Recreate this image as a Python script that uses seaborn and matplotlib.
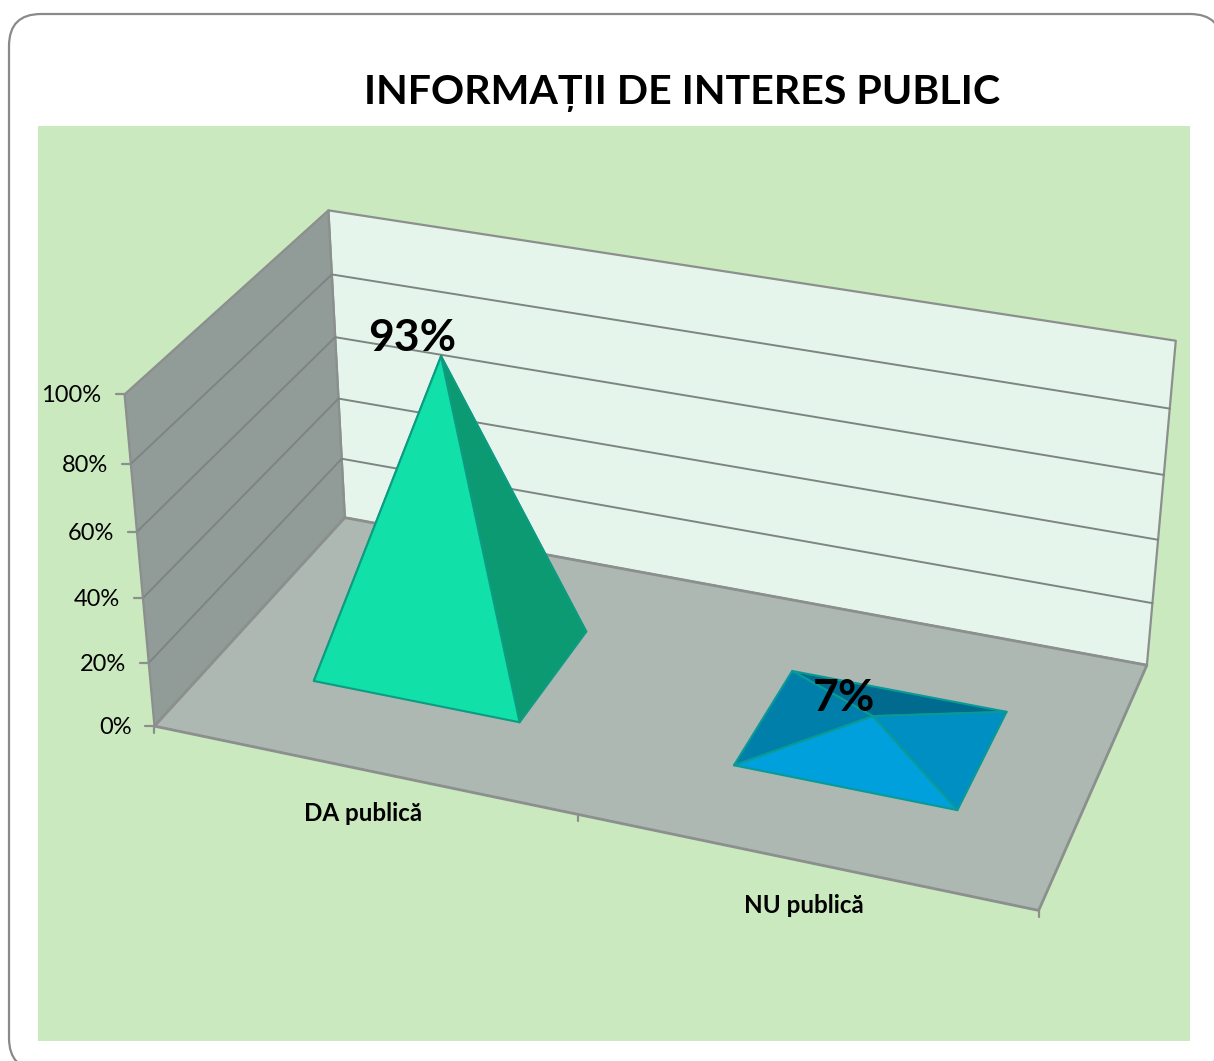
import numpy as np
import matplotlib
matplotlib.use("Agg")
import matplotlib.pyplot as plt
from matplotlib.patches import FancyBboxPatch, Polygon, Rectangle
import seaborn as sns

# ---- chart data ----
title = "INFORMAȚII DE INTERES PUBLIC"
categories = ["DA publică", "NU publică"]
values = [93, 7]
value_labels = ["93%", "7%"]
tick_values = [0, 20, 40, 60, 80, 100]
tick_labels = ["0%", "20%", "40%", "60%", "80%", "100%"]

sns.set_theme(style="white")
plt.rcParams["font.family"] = ["Lato", "DejaVu Sans"]

W, H = 1214, 1061
fig = plt.figure(figsize=(W / 100, H / 100), dpi=100, facecolor="white")
ax = fig.add_axes([0, 0, 1, 1])
ax.set_xlim(0, W)
ax.set_ylim(H, 0)
ax.axis("off")

# ---- the 3-D chart's camera: category, depth, value -> picture ----
calib_world = np.array([
    [0, 0, 0], [2, 0, 0], [0, 1, 0], [2, 1, 0], [0, 0, 100], [0, 1, 100], [2, 1, 100],
    [0, 1, 60], [2, 1, 60], [0, 0, 60], [0, 0, 20], [1, 0, 0]], float)
calib_image = np.array([
    [155, 727], [1038, 910], [344, 518], [1147, 664], [124, 395], [328, 211], [1176, 341],
    [336, 337], [1164, 475], [137, 530], [149, 661], [578, 817]], float)
rows, rhs = [], []
for (X, Y, Z), (u, v) in zip(calib_world, calib_image):
    Z = Z / 100
    rows.append([X, Y, Z, 1, 0, 0, 0, 0, -u * X, -u * Y, -u * Z])
    rows.append([0, 0, 0, 0, X, Y, Z, 1, -v * X, -v * Y, -v * Z])
    rhs += [u, v]
sol = np.linalg.lstsq(np.array(rows), np.array(rhs), rcond=None)[0]
P = np.append(sol, 1.0).reshape(3, 4)


def proj(x, d, z):
    q = P @ np.array([x, d, z / 100, 1.0])
    return q[:2] / q[2]


# ---- card and panel ----
ax.add_patch(FancyBboxPatch((9, 14), 1213, 1056,
                            boxstyle="round,pad=0,rounding_size=32",
                            fc="white", ec="#8a8a8a", lw=1.6, zorder=0))
ax.add_patch(Rectangle((38, 126), 1152, 915, fc="#cbe9bf", ec="none", zorder=1))

EDGE = "#8b8f8e"


def quad(points, fc, z=2, ec=EDGE, lw=1.6):
    ax.add_patch(Polygon([proj(*p) for p in points], closed=True, fc=fc, ec=ec,
                         lw=lw, joinstyle="round", zorder=z))


top = max(tick_values)
quad([(0, 1, 0), (2, 1, 0), (2, 1, top), (0, 1, top)], "#e6f5ec", ec=EDGE)
quad([(0, 0, 0), (0, 1, 0), (0, 1, top), (0, 0, top)], "#919b97", ec=EDGE)
quad([(0, 0, 0), (2, 0, 0), (2, 1, 0), (0, 1, 0)], "#aeb8b2", ec=EDGE, lw=2)

# gridlines, ticks and tick labels
for tv, tl in zip(tick_values, tick_labels):
    a, b, c = proj(0, 0, tv), proj(0, 1, tv), proj(2, 1, tv)
    if tv not in (0, top):
        ax.plot([a[0], b[0], c[0]], [a[1], b[1], c[1]], color="#7d8583", lw=1.4, zorder=3)
    ax.plot([a[0] - 9, a[0]], [a[1], a[1]], color=EDGE, lw=1.6, zorder=3)
    ax.text(a[0] - 23, a[1] + 1.5, tl, ha="right", va="center", fontsize=17,
            color="black", zorder=6)

for i in range(len(categories) + 1):
    p = proj(i, 0, 0)
    ax.plot([p[0], p[0]], [p[1], p[1] + 7], color=EDGE, lw=1.6, zorder=3)

# ---- pyramids ----
face_colours = [
    {"back": "#0a8a68", "left": "#0b9e78", "right": "#0b9a72", "front": "#11e0a9"},
    {"back": "#006b8f", "left": "#007fab", "right": "#008fc2", "front": "#00a0dc"},
]
edge_colours = ["#0d9c82", "#0a9a96"]
half_w, d0, d1 = 0.25, 0.29, 0.70

for i, (val, lab, cols, ec) in enumerate(zip(values, value_labels, face_colours, edge_colours)):
    cx = i + 0.5
    cd = (d0 + d1) / 2
    fl, fr = (cx - half_w, d0, 0), (cx + half_w, d0, 0)
    br, bl = (cx + half_w, d1, 0), (cx - half_w, d1, 0)
    apex = (cx, cd, val)
    for k, (pa, pb) in enumerate([(bl, br), (bl, fl), (br, fr), (fl, fr)]):
        name = ["back", "left", "right", "front"][k]
        quad([pa, pb, apex], cols[name], z=4 + k * 0.1, ec=ec, lw=1.5)
    ap = proj(*apex)
    ax.text(ap[0] - 29, ap[1] - 18, lab, ha="center", va="center", fontsize=32,
            fontweight="bold", color="black", zorder=7)

# ---- category labels ----
for i, c in enumerate(categories):
    p = proj(i + 0.5, 0, 0)
    ax.text(p[0] + 1, p[1] + 44, c, ha="center", va="center", fontsize=17.4,
            fontweight="bold", color="black", zorder=6)

ax.text(682, 94, title, ha="center", va="center", fontsize=29.6,
        fontweight="bold", color="black", zorder=6)

fig.savefig("out.png", dpi=100, facecolor="white")
